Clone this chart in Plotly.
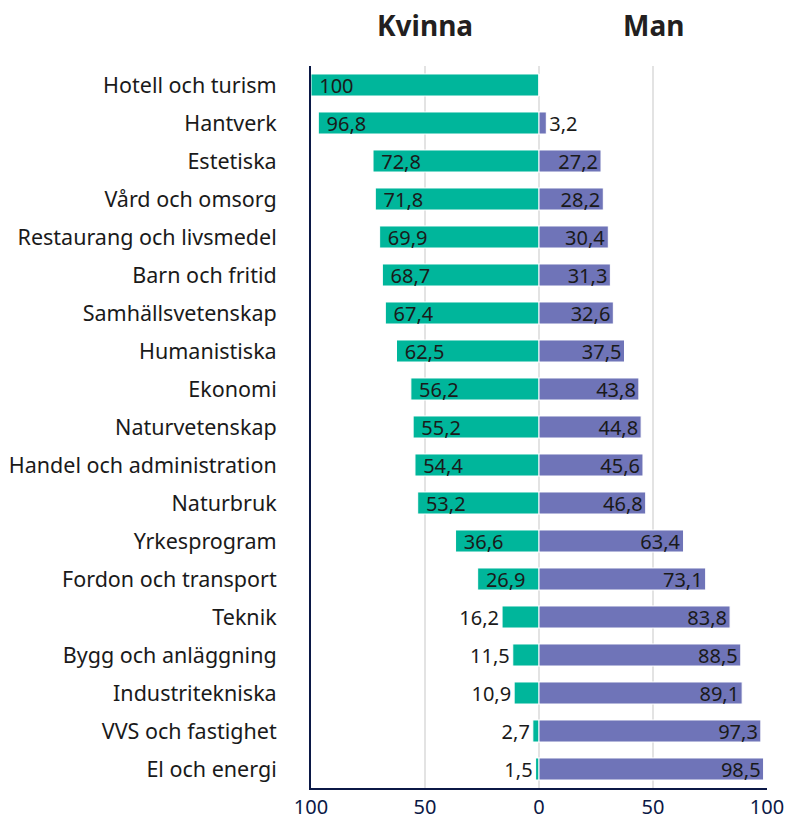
import plotly.graph_objects as go

categories = [
    "Hotell och turism", "Hantverk", "Estetiska", "Vård och omsorg",
    "Restaurang och livsmedel", "Barn och fritid", "Samhällsvetenskap",
    "Humanistiska", "Ekonomi", "Naturvetenskap", "Handel och administration",
    "Naturbruk", "Yrkesprogram", "Fordon och transport", "Teknik",
    "Bygg och anläggning", "Industritekniska", "VVS och fastighet", "El och energi",
]
kvinna = [100, 96.8, 72.8, 71.8, 69.9, 68.7, 67.4, 62.5, 56.2, 55.2, 54.4,
          53.2, 36.6, 26.9, 16.2, 11.5, 10.9, 2.7, 1.5]
man = [0, 3.2, 27.2, 28.2, 30.4, 31.3, 32.6, 37.5, 43.8, 44.8, 45.6,
       46.8, 63.4, 73.1, 83.8, 88.5, 89.1, 97.3, 98.5]
tick_vals = [-100, -50, 0, 50, 100]
tick_text = ["100", "50", "0", "50", "100"]

TEAL = "#00B69B"
PURPLE = "#6F74B8"
NAVY = "#0B1846"
FONT = "Noto Sans"


def fmt(v, lead=""):
    return "" if v == 0 else lead + f"{v:g}".replace(".", ",")


def positions(vals):
    return ["inside" if v >= 20 else "outside" for v in vals]


fig = go.Figure()
fig.add_trace(go.Bar(
    y=categories, x=[-v for v in kvinna], orientation="h",
    marker=dict(color=TEAL, line=dict(color="white", width=1)),
    text=[fmt(v, "\u00a0" if v >= 20 else "") for v in kvinna],
    textposition=positions(kvinna),
    insidetextanchor="end", constraintext="none",
    textfont=dict(family=FONT, size=20, color="#1a1a1a"),
    name="Kvinna", hoverinfo="skip",
))
fig.add_trace(go.Bar(
    y=categories, x=man, orientation="h",
    marker=dict(color=PURPLE, line=dict(color="white", width=1)),
    text=[fmt(v) for v in man], textposition=positions(man),
    insidetextanchor="end", constraintext="none",
    textfont=dict(family=FONT, size=20, color="#1a1a1a"),
    name="Man", hoverinfo="skip",
))

for x, label in [(-50, "Kvinna"), (50, "Man")]:
    fig.add_annotation(x=x, xref="x", y=1.0, yref="paper", yanchor="bottom",
                       yshift=20, text=f"<b>{label}</b>", showarrow=False,
                       font=dict(family=FONT, size=28, color="#231f20"))

fig.update_layout(
    width=795, height=821,
    margin=dict(l=311, r=28, t=66, b=33),
    barmode="relative", bargap=0.42,
    plot_bgcolor="white", paper_bgcolor="white",
    showlegend=False,
    font=dict(family=FONT, color="#1a1a1a"),
)
fig.update_xaxes(
    range=[-100, 100], tickvals=tick_vals, ticktext=tick_text,
    showgrid=True, gridcolor="#e3e3e3", gridwidth=2,
    zeroline=False, showline=True, linecolor=NAVY, linewidth=2,
    tickfont=dict(family=FONT, size=20, color=NAVY),
    automargin=False,
)
fig.update_yaxes(
    autorange="reversed", showline=True, linecolor=NAVY, linewidth=2,
    ticks="", ticklabelstandoff=28, automargin=False,
    tickfont=dict(family=FONT, size=21.5, color="#1a1a1a"),
)

fig.write_html("out.html")
